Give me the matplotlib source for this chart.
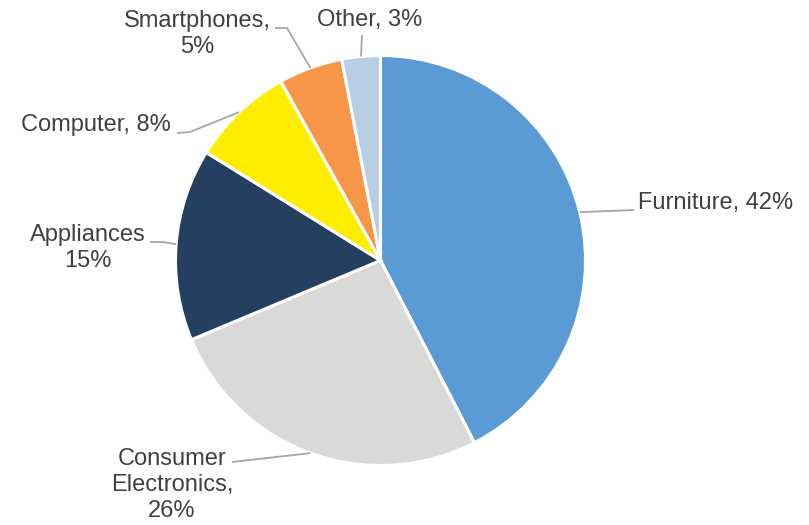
import numpy as np
import matplotlib
matplotlib.use('Agg')
import matplotlib.pyplot as plt

categories = ['Furniture', 'Consumer Electronics', 'Appliances', 'Computer', 'Smartphones', 'Other']
shares = [42, 26, 15, 8, 5, 3]
labels = ['Furniture, 42%', 'Consumer\nElectronics,\n26%', 'Appliances\n15%',
          'Computer, 8%', 'Smartphones,\n5%', 'Other, 3%']
colors = ['#5B9BD5', '#D9D9D9', '#243F60', '#FFED00', '#F79646', '#B9CDE5']

W, H = 809, 525
cx, cy, R = 380.5, H - 260.5, 205

# label text position (pixels, y down) and leader points on the label side
label_pos = [(638, 203, 'left'), (172, 485, 'center'), (88, 248, 'center'),
             (96, 125, 'center'), (197, 34, 'center'), (370, 20, 'center')]
leader_pts = [[(634, 210)], [(232, 462)], [(150, 242), (163, 242)],
              [(177, 133), (190, 132)], [(275, 28), (287, 28)], [(362, 35)]]

plt.rcParams['font.family'] = ['Liberation Sans', 'DejaVu Sans']

fig = plt.figure(figsize=(W / 100, H / 100), dpi=100)
ax = fig.add_axes([0, 0, 1, 1])
wedges, _ = ax.pie(shares, colors=colors, startangle=90, counterclock=False,
                   center=(cx, cy), radius=R,
                   wedgeprops=dict(edgecolor='white', linewidth=2.2))
ax.set_xlim(0, W)
ax.set_ylim(0, H)
ax.set_aspect('equal')
ax.axis('off')

for w, lab, (tx, ty, ha), pts in zip(wedges, labels, label_pos, leader_pts):
    ang = np.deg2rad((w.theta1 + w.theta2) / 2)
    ex, ey = cx + R * np.cos(ang), cy + R * np.sin(ang)
    xs = [p[0] for p in pts] + [ex]
    ys = [H - p[1] for p in pts] + [ey]
    ax.plot(xs, ys, color='#A6A6A6', lw=1.3, solid_capstyle='butt')
    ax.text(tx, H - ty, lab, ha=ha, va='center', ma='center', fontsize=17,
            color='#404040', linespacing=1.25)

fig.savefig('out.png', dpi=100)
